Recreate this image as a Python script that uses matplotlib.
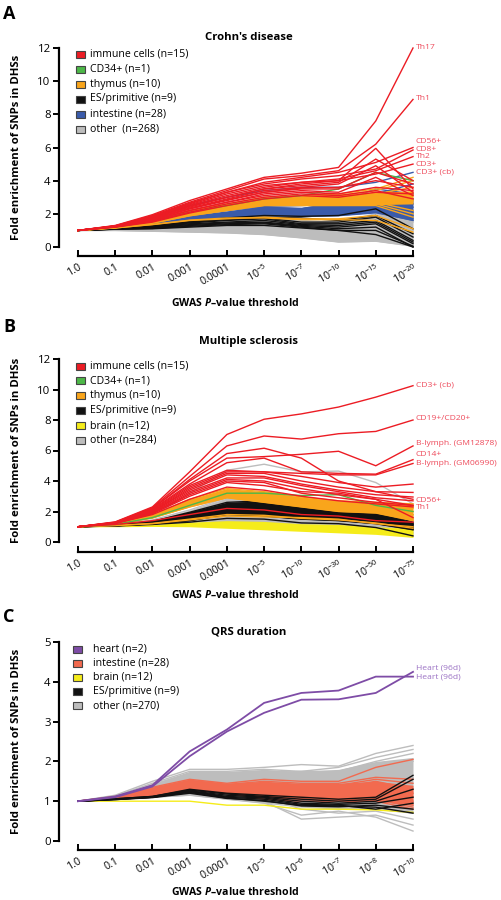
import matplotlib
matplotlib.use('Agg')
import matplotlib.pyplot as plt
from matplotlib.patches import Rectangle

plt.rcParams['font.family'] = ['Open Sans', 'DejaVu Sans']
plt.rcParams['mathtext.fontset'] = 'custom'
plt.rcParams['mathtext.rm'] = 'Open Sans'
plt.rcParams['mathtext.it'] = 'Open Sans:italic:bold'
plt.rcParams['mathtext.bf'] = 'Open Sans:bold'

# ---------------- Panel A : Crohn's disease ----------------
xticks_A = ['1.0', '0.1', '0.01', '0.001', '0.0001', '10$^{-5}$', '10$^{-7}$',
            '10$^{-10}$', '10$^{-15}$', '10$^{-20}$']
red_A = [
    [1.0, 1.30, 1.95, 2.80, 3.50, 4.20, 4.45, 4.80, 7.60, 12.0],
    [1.0, 1.28, 1.90, 2.70, 3.40, 4.10, 4.30, 4.60, 6.20, 8.90],
    [1.0, 1.27, 1.85, 2.60, 3.30, 3.90, 4.20, 4.50, 5.10, 6.00],
    [1.0, 1.27, 1.85, 2.65, 3.30, 3.80, 4.10, 4.30, 4.70, 5.85],
    [1.0, 1.26, 1.80, 2.55, 3.20, 3.70, 3.90, 4.10, 4.60, 5.45],
    [1.0, 1.25, 1.80, 2.50, 3.10, 3.60, 3.90, 4.00, 4.40, 5.00],
    [1.0, 1.25, 1.75, 2.45, 3.00, 3.50, 3.80, 4.00, 5.95, 3.50],
    [1.0, 1.25, 1.75, 2.40, 3.00, 3.50, 3.70, 3.90, 5.30, 4.00],
    [1.0, 1.24, 1.70, 2.35, 2.90, 3.40, 3.60, 3.80, 4.90, 3.30],
    [1.0, 1.23, 1.65, 2.30, 2.80, 3.30, 3.50, 3.50, 4.50, 3.80],
    [1.0, 1.22, 1.60, 2.20, 2.70, 3.20, 3.40, 3.30, 4.20, 3.10],
    [1.0, 1.22, 1.60, 2.20, 2.70, 3.10, 3.30, 3.20, 3.60, 3.40],
    [1.0, 1.21, 1.55, 2.10, 2.60, 3.00, 3.20, 3.10, 3.40, 2.90],
    [1.0, 1.20, 1.50, 2.05, 2.50, 2.90, 3.10, 3.00, 3.30, 3.20],
    [1.0, 1.22, 1.65, 2.30, 2.85, 3.30, 3.55, 3.60, 4.00, 3.60],
]
green_A = [[1.0, 1.20, 1.55, 2.10, 2.50, 2.90, 3.10, 3.50, 4.50, 4.00]]
orange_A = [
    [1.0, 1.20, 1.60, 2.20, 2.60, 3.00, 3.10, 3.20, 3.50, 4.20],
    [1.0, 1.20, 1.58, 2.15, 2.55, 2.90, 3.00, 3.10, 3.40, 4.00],
    [1.0, 1.19, 1.55, 2.10, 2.50, 2.80, 2.90, 3.00, 3.20, 3.60],
    [1.0, 1.19, 1.52, 2.05, 2.45, 2.75, 2.85, 2.90, 3.30, 3.10],
    [1.0, 1.18, 1.50, 2.00, 2.40, 2.70, 2.75, 2.80, 2.90, 2.80],
    [1.0, 1.18, 1.48, 1.95, 2.35, 2.60, 2.70, 2.70, 2.70, 2.20],
    [1.0, 1.17, 1.46, 1.92, 2.30, 2.55, 2.60, 2.60, 2.60, 2.00],
    [1.0, 1.16, 1.44, 1.88, 2.20, 2.50, 2.50, 2.50, 2.50, 1.80],
    [1.0, 1.15, 1.35, 1.60, 1.70, 1.80, 1.70, 1.70, 1.90, 1.10],
    [1.0, 1.15, 1.36, 1.62, 1.75, 1.75, 1.65, 1.65, 1.60, 0.90],
]
orange_A_low = [1.0, 1.16, 1.44, 1.88, 2.20, 2.50, 2.50, 2.50, 2.55, 2.60]
orange_A_high = [1.0, 1.20, 1.60, 2.20, 2.60, 3.00, 3.10, 3.20, 3.30, 3.40]
blue_A = [
    [1.0, 1.25, 1.75, 2.50, 3.00, 3.40, 3.60, 3.60, 3.90, 4.50],
    [1.0, 1.18, 1.45, 1.85, 2.10, 2.40, 2.30, 2.70, 3.50, 3.20],
    [1.0, 1.17, 1.42, 1.80, 2.05, 2.35, 2.30, 2.50, 3.00, 2.90],
    [1.0, 1.16, 1.40, 1.75, 2.00, 2.30, 2.20, 2.40, 2.80, 2.60],
    [1.0, 1.15, 1.38, 1.70, 1.95, 2.20, 2.15, 2.30, 2.60, 2.40],
    [1.0, 1.15, 1.35, 1.65, 1.90, 2.10, 2.05, 2.20, 2.50, 2.10],
    [1.0, 1.14, 1.33, 1.60, 1.85, 2.00, 2.00, 2.10, 2.40, 1.90],
    [1.0, 1.13, 1.30, 1.55, 1.75, 1.95, 1.90, 2.00, 2.20, 1.70],
    [1.0, 1.12, 1.28, 1.50, 1.70, 1.90, 1.85, 1.90, 2.10, 1.60],
    [1.0, 1.18, 1.48, 1.90, 2.20, 2.45, 2.50, 2.60, 3.20, 3.80],
]
blue_A_low = [1.0, 1.12, 1.28, 1.50, 1.70, 1.88, 1.85, 1.88, 2.05, 1.60]
blue_A_high = [1.0, 1.18, 1.45, 1.85, 2.15, 2.45, 2.40, 2.70, 3.00, 3.00]
black_A = [
    [1.0, 1.12, 1.30, 1.55, 1.75, 1.90, 1.85, 1.90, 2.30, 1.10],
    [1.0, 1.11, 1.28, 1.52, 1.70, 1.80, 1.75, 1.60, 1.90, 0.80],
    [1.0, 1.10, 1.25, 1.50, 1.65, 1.75, 1.50, 1.50, 1.80, 0.60],
    [1.0, 1.10, 1.22, 1.45, 1.60, 1.70, 1.40, 1.40, 1.60, 0.40],
    [1.0, 1.09, 1.20, 1.40, 1.50, 1.60, 1.35, 1.30, 1.50, 0.30],
    [1.0, 1.09, 1.18, 1.35, 1.45, 1.50, 1.30, 1.20, 1.40, 0.20],
    [1.0, 1.08, 1.15, 1.30, 1.40, 1.45, 1.25, 1.10, 1.20, 0.00],
    [1.0, 1.08, 1.12, 1.25, 1.35, 1.40, 1.20, 1.00, 1.00, 0.05],
    [1.0, 1.07, 1.10, 1.20, 1.30, 1.30, 1.15, 1.00, 0.75, 0.00],
]
gray_A = [
    [1.0, 1.10, 1.25, 1.45, 1.60, 1.70, 1.60, 1.50, 2.00, 2.20],
    [1.0, 1.08, 1.18, 1.35, 1.45, 1.50, 1.40, 1.30, 1.70, 1.80],
    [1.0, 1.06, 1.12, 1.25, 1.30, 1.35, 1.20, 1.10, 1.40, 1.50],
    [1.0, 1.04, 1.08, 1.15, 1.20, 1.20, 1.05, 0.90, 1.10, 1.00],
    [1.0, 1.02, 1.03, 1.05, 1.05, 1.00, 0.90, 0.70, 0.80, 0.60],
    [1.0, 1.00, 0.98, 0.95, 0.92, 0.85, 0.70, 0.45, 0.55, 0.30],
    [1.0, 1.00, 0.95, 0.90, 0.85, 0.75, 0.55, 0.30, 0.35, 0.05],
]
gray_A_low = [1.0, 1.00, 0.95, 0.90, 0.85, 0.75, 0.55, 0.30, 0.35, 0.05]
gray_A_high = [1.0, 1.10, 1.25, 1.45, 1.60, 1.70, 1.60, 1.50, 2.00, 2.20]
labels_A = ['Th17', 'Th1', 'CD56+', 'CD8+', 'Th2', 'CD3+', 'CD3+ (cb)']
labels_A_y = [12.05, 8.95, 6.35, 5.9, 5.45, 5.0, 4.5]
legend_A = ['immune cells (n=15)', 'CD34+ (n=1)', 'thymus (n=10)',
            'ES/primitive (n=9)', 'intestine (n=28)', 'other  (n=268)']

# ---------------- Panel B : Multiple sclerosis ----------------
xticks_B = ['1.0', '0.1', '0.01', '0.001', '0.0001', '10$^{-5}$', '10$^{-10}$',
            '10$^{-30}$', '10$^{-50}$', '10$^{-75}$']
red_B = [
    [1.0, 1.32, 2.30, 4.60, 7.05, 8.05, 8.40, 8.85, 9.50, 10.25],
    [1.0, 1.30, 2.25, 4.30, 6.30, 6.95, 6.75, 7.10, 7.25, 8.00],
    [1.0, 1.28, 2.20, 4.00, 5.50, 5.60, 5.75, 5.95, 5.00, 6.30],
    [1.0, 1.27, 2.15, 3.80, 5.20, 5.50, 4.60, 4.50, 4.45, 5.40],
    [1.0, 1.27, 2.10, 3.70, 4.70, 4.60, 4.50, 4.40, 4.40, 5.15],
    [1.0, 1.28, 2.20, 4.10, 5.80, 6.15, 5.50, 4.00, 3.30, 2.80],
    [1.0, 1.26, 2.05, 3.60, 4.60, 4.60, 4.30, 3.90, 3.60, 3.80],
    [1.0, 1.25, 2.00, 3.50, 4.50, 4.50, 4.00, 3.60, 3.30, 3.25],
    [1.0, 1.25, 2.00, 3.40, 4.40, 4.30, 3.80, 3.40, 3.10, 2.95],
    [1.0, 1.24, 1.95, 3.30, 4.20, 4.20, 3.70, 3.30, 2.90, 2.70],
    [1.0, 1.24, 1.90, 3.20, 4.10, 4.00, 3.50, 3.10, 2.80, 2.40],
    [1.0, 1.23, 1.90, 3.10, 4.00, 3.90, 3.20, 2.90, 2.60, 2.40],
    [1.0, 1.22, 1.85, 3.00, 3.90, 3.70, 3.30, 3.20, 2.80, 1.60],
    [1.0, 1.22, 1.80, 2.80, 3.60, 3.40, 3.00, 2.70, 2.50, 2.30],
    [1.0, 1.15, 1.40, 1.80, 2.20, 2.10, 1.80, 1.70, 1.40, 1.30],
]
green_B = [[1.0, 1.15, 1.60, 2.40, 3.20, 3.20, 3.05, 3.10, 2.40, 2.00]]
orange_B = [
    [1.0, 1.20, 1.75, 2.80, 3.50, 3.30, 2.95, 2.70, 2.60, 2.50],
    [1.0, 1.20, 1.72, 2.70, 3.40, 3.20, 2.85, 2.60, 2.50, 2.30],
    [1.0, 1.19, 1.70, 2.60, 3.30, 3.10, 2.75, 2.50, 2.40, 2.20],
    [1.0, 1.18, 1.68, 2.50, 3.20, 3.00, 2.65, 2.40, 2.30, 2.00],
    [1.0, 1.18, 1.65, 2.45, 3.10, 2.90, 2.55, 2.30, 2.20, 1.80],
    [1.0, 1.17, 1.62, 2.40, 3.00, 2.80, 2.45, 2.20, 2.10, 1.60],
    [1.0, 1.17, 1.60, 2.35, 2.95, 2.70, 2.35, 2.10, 2.00, 1.50],
    [1.0, 1.16, 1.58, 2.30, 2.90, 2.60, 2.30, 2.00, 1.90, 1.40],
    [1.0, 1.08, 1.20, 1.45, 1.70, 1.65, 1.60, 1.50, 1.20, 1.00],
    [1.0, 1.08, 1.22, 1.50, 1.80, 1.75, 1.55, 1.45, 1.25, 0.90],
]
orange_B_low = [1.0, 1.16, 1.58, 2.30, 2.90, 2.60, 2.30, 2.00, 1.90, 1.40]
orange_B_high = [1.0, 1.20, 1.75, 2.80, 3.50, 3.30, 2.95, 2.70, 2.60, 2.50]
black_B = [
    [1.0, 1.10, 1.35, 1.95, 2.60, 2.70, 2.40, 2.10, 2.00, 1.30],
    [1.0, 1.10, 1.33, 1.90, 2.50, 2.60, 2.30, 2.00, 1.80, 1.20],
    [1.0, 1.09, 1.30, 1.85, 2.40, 2.50, 2.20, 1.90, 1.70, 1.15],
    [1.0, 1.09, 1.28, 1.75, 2.30, 2.35, 2.00, 1.80, 1.60, 1.10],
    [1.0, 1.08, 1.25, 1.70, 2.20, 2.20, 1.90, 1.70, 1.50, 1.00],
    [1.0, 1.08, 1.23, 1.60, 2.00, 2.00, 1.70, 1.60, 1.40, 0.90],
    [1.0, 1.07, 1.20, 1.50, 1.90, 1.85, 1.60, 1.50, 1.30, 0.85],
    [1.0, 1.06, 1.18, 1.40, 1.80, 1.70, 1.50, 1.40, 1.20, 0.80],
    [1.0, 1.05, 1.15, 1.30, 1.55, 1.50, 1.25, 1.20, 0.95, 0.40],
]
black_B_low = [1.0, 1.06, 1.18, 1.40, 1.80, 1.70, 1.50, 1.40, 1.20, 0.80]
black_B_high = [1.0, 1.10, 1.35, 1.95, 2.60, 2.70, 2.40, 2.10, 2.00, 1.30]
gray_B = [
    [1.0, 1.20, 1.70, 3.20, 4.70, 5.10, 4.60, 4.65, 3.90, 2.50],
    [1.0, 1.15, 1.45, 2.10, 2.90, 2.80, 2.50, 2.40, 2.20, 1.80],
    [1.0, 1.10, 1.30, 1.70, 2.20, 2.10, 1.90, 1.80, 1.60, 1.30],
    [1.0, 1.05, 1.20, 1.30, 1.40, 1.35, 1.20, 1.10, 0.90, 0.60],
]
gray_B_low = [1.0, 1.05, 1.20, 1.30, 1.30, 1.20, 1.10, 1.00, 0.80, 0.50]
gray_B_high = [1.0, 1.15, 1.45, 2.10, 2.90, 2.80, 2.50, 2.40, 2.20, 1.80]
yellow_B_low = [1.0, 1.00, 1.02, 1.00, 0.90, 0.80, 0.70, 0.60, 0.50, 0.30]
yellow_B_high = [1.0, 1.05, 1.15, 1.30, 1.40, 1.35, 1.20, 1.15, 1.00, 0.90]
labels_B = ['CD3+ (cb)', 'CD19+/CD20+', 'B-lymph. (GM12878)', 'CD14+',
            'B-lymph. (GM06990)', 'CD56+', 'Th1']
labels_B_y = [10.3, 8.1, 6.45, 5.75, 5.12, 2.73, 2.27]
legend_B = ['immune cells (n=15)', 'CD34+ (n=1)', 'thymus (n=10)',
            'ES/primitive (n=9)', 'brain (n=12)', 'other (n=284)']

# ---------------- Panel C : QRS duration ----------------
xticks_C = ['1.0', '0.1', '0.01', '0.001', '0.0001', '10$^{-5}$', '10$^{-6}$',
            '10$^{-7}$', '10$^{-8}$', '10$^{-10}$']
purple_C = [
    [1.0, 1.12, 1.40, 2.25, 2.80, 3.47, 3.72, 3.78, 4.13, 4.13],
    [1.0, 1.10, 1.37, 2.13, 2.75, 3.22, 3.55, 3.56, 3.72, 4.25],
]
gray_C = [
    [1.0, 1.15, 1.50, 1.80, 1.80, 1.85, 1.92, 1.88, 2.20, 2.40],
    [1.0, 1.13, 1.45, 1.75, 1.75, 1.80, 1.75, 1.85, 2.10, 2.30],
    [1.0, 1.12, 1.35, 1.70, 1.70, 1.70, 1.75, 1.75, 2.00, 2.20],
    [1.0, 1.10, 1.30, 1.60, 1.55, 1.60, 1.60, 1.60, 1.70, 2.00],
    [1.0, 1.09, 1.25, 1.40, 1.35, 1.30, 1.25, 1.20, 1.40, 1.60],
    [1.0, 1.08, 1.20, 1.30, 1.20, 1.10, 0.80, 0.70, 0.75, 0.55],
    [1.0, 1.07, 1.18, 1.25, 1.15, 1.05, 0.90, 0.80, 0.80, 0.70],
    [1.0, 1.06, 1.15, 1.20, 1.10, 1.00, 0.55, 0.60, 0.65, 0.40],
    [1.0, 1.05, 1.10, 1.15, 1.05, 0.95, 0.65, 0.75, 0.60, 0.25],
]
gray_C_low = [1.0, 1.05, 1.10, 1.15, 1.05, 0.95, 0.85, 0.80, 0.80, 0.70]
gray_C_high = [1.0, 1.13, 1.45, 1.75, 1.75, 1.80, 1.75, 1.80, 2.00, 2.10]
salmon_C = [
    [1.0, 1.12, 1.35, 1.55, 1.45, 1.55, 1.50, 1.50, 1.85, 2.05],
    [1.0, 1.11, 1.32, 1.52, 1.42, 1.50, 1.45, 1.45, 1.60, 1.55],
    [1.0, 1.10, 1.30, 1.48, 1.40, 1.45, 1.40, 1.40, 1.55, 1.45],
    [1.0, 1.10, 1.28, 1.45, 1.38, 1.40, 1.35, 1.35, 1.50, 1.30],
    [1.0, 1.09, 1.25, 1.42, 1.35, 1.35, 1.30, 1.30, 1.40, 1.20],
    [1.0, 1.09, 1.22, 1.40, 1.30, 1.30, 1.20, 1.25, 1.30, 1.10],
    [1.0, 1.08, 1.20, 1.38, 1.28, 1.25, 1.15, 1.20, 1.20, 1.00],
    [1.0, 1.08, 1.18, 1.35, 1.25, 1.20, 1.10, 1.10, 1.10, 0.90],
    [1.0, 1.07, 1.15, 1.32, 1.22, 1.10, 1.05, 1.00, 1.05, 0.85],
    [1.0, 1.07, 1.15, 1.30, 1.20, 1.05, 1.00, 1.00, 1.00, 0.80],
]
salmon_C_low = [1.0, 1.07, 1.15, 1.30, 1.20, 1.10, 1.05, 1.00, 1.00, 0.90]
salmon_C_high = [1.0, 1.12, 1.35, 1.55, 1.45, 1.50, 1.45, 1.45, 1.50, 1.40]
black_C = [
    [1.0, 1.06, 1.12, 1.30, 1.20, 1.15, 1.10, 1.05, 1.10, 1.65],
    [1.0, 1.06, 1.12, 1.28, 1.18, 1.12, 1.05, 1.00, 1.05, 1.55],
    [1.0, 1.05, 1.11, 1.26, 1.15, 1.10, 1.00, 0.95, 1.00, 1.30],
    [1.0, 1.05, 1.10, 1.25, 1.12, 1.08, 0.95, 0.92, 0.95, 1.10],
    [1.0, 1.05, 1.10, 1.24, 1.10, 1.05, 0.92, 0.90, 0.80, 0.95],
    [1.0, 1.04, 1.10, 1.22, 1.08, 1.00, 0.90, 0.88, 0.85, 0.70],
    [1.0, 1.04, 1.09, 1.20, 1.07, 1.02, 0.88, 0.86, 0.90, 0.80],
]
yellow_C = [[1.0, 1.00, 1.00, 1.00, 0.90, 0.90, 0.80, 0.80, 0.78, 0.72]]
labels_C = ['Heart (96d)', 'Heart (96d)']
labels_C_y = [4.35, 4.12]
legend_C = ['heart (n=2)', 'intestine (n=28)', 'brain (n=12)',
            'ES/primitive (n=9)', 'other (n=270)']

# ---------------- colours ----------------
RED = '#EC1C24'
GREEN = '#4DB848'
ORANGE = '#F9A51B'
BLACK = '#111111'
BLUE = '#3A5BAA'
GRAY = '#BDBDBD'
YELLOW = '#F5EC1A'
PURPLE = '#7E4CA6'
SALMON = '#F26A4F'
LBL_RED = '#EE4B5C'
LBL_PURPLE = '#9B72C4'

W, H = 502, 900
fig = plt.figure(figsize=(W / 100, H / 100), dpi=100)


def fx(x):
    return x / W


def fy(y):
    return 1 - y / H


def make_axes(top_px, bottom_px):
    left, right = 78, 413
    return fig.add_axes([fx(left), fy(bottom_px), (right - left) / W,
                         (bottom_px - top_px) / H])


def style_axes(ax, ymax, xticklabels, bottom_off_px):
    ax.set_xlim(0, len(xticklabels) - 1)
    ax.set_ylim(0, ymax)
    for s in ['top', 'right']:
        ax.spines[s].set_visible(False)
    ax.spines['left'].set_position(('outward', 19 * 0.72))
    ax.spines['bottom'].set_position(('outward', bottom_off_px * 0.72))
    ax.spines['left'].set_linewidth(1.6)
    ax.spines['bottom'].set_linewidth(1.6)
    ax.set_xticks(range(len(xticklabels)))
    ax.set_xticklabels(xticklabels, rotation=30, ha='right',
                       rotation_mode='anchor', fontsize=7.6)
    step = 2 if ymax > 6 else 1
    ax.set_yticks(range(0, ymax + 1, step))
    ax.tick_params(axis='y', direction='out', length=4, width=1.4,
                   labelsize=8.2, pad=2)
    ax.tick_params(axis='x', direction='in', length=4, width=1.4, pad=4)
    ax.set_facecolor('none')


def draw_group(ax, lines, color, z, lw=1.0, low=None, high=None):
    xs = list(range(10))
    if low is not None:
        ax.fill_between(xs, low, high, color=color, lw=0, zorder=z)
    for ln in lines:
        ax.plot(xs, ln, color=color, lw=lw, zorder=z + 0.5, clip_on=False,
                solid_joinstyle='miter')


def draw_legend(entries, colors, x_patch, y_first, step, x_text):
    for i, (t, c) in enumerate(zip(entries, colors)):
        yc = y_first + i * step
        fig.patches.append(Rectangle((fx(x_patch), fy(yc + 3.5)), 9 / W, 7 / H,
                                     transform=fig.transFigure, facecolor=c,
                                     edgecolor='#444444', lw=0.8))
        fig.text(fx(x_text), fy(yc), t, fontsize=7.6, va='center', ha='left')


def right_labels(ax, texts, ys, color):
    for t, y in zip(texts, ys):
        ax.annotate(t, xy=(9, y), xytext=(3, 0), textcoords='offset pixels',
                    fontsize=6.1, color=color, va='center', ha='left',
                    annotation_clip=False)


def axis_labels(ax, title, title_y, xlabel_y):
    ax.text(0.51, title_y, title, transform=ax.transAxes, ha='center',
            va='center', fontsize=8.2, fontweight='bold')
    ax.set_ylabel('Fold enrichment of SNPs in DHSs', fontsize=8.2,
                  fontweight='bold')
    ax.yaxis.set_label_coords(-0.167, 0.5)
    ax.set_xlabel('GWAS $P$\u2013value threshold', fontsize=7.6,
                  fontweight='bold')
    ax.xaxis.set_label_coords(0.469, xlabel_y)


# ---------- Panel A ----------
axA = make_axes(48, 247)
style_axes(axA, 12, xticks_A, 9)
draw_group(axA, gray_A, GRAY, 1, low=gray_A_low, high=gray_A_high)
draw_group(axA, blue_A, BLUE, 2, low=blue_A_low, high=blue_A_high)
draw_group(axA, black_A, BLACK, 3)
draw_group(axA, orange_A, ORANGE, 4, low=orange_A_low, high=orange_A_high)
draw_group(axA, green_A, GREEN, 5)
draw_group(axA, red_A, RED, 6)
right_labels(axA, labels_A, labels_A_y, LBL_RED)
axis_labels(axA, "Crohn's disease", 1.055, -0.251)
draw_legend(legend_A, [RED, GREEN, ORANGE, BLACK, BLUE, GRAY], 76, 54, 15, 90)

# ---------- Panel B ----------
axB = make_axes(359, 542)
style_axes(axB, 12, xticks_B, 10)
draw_group(axB, gray_B, GRAY, 1, low=gray_B_low, high=gray_B_high)
draw_group(axB, [], YELLOW, 2, low=yellow_B_low, high=yellow_B_high)
draw_group(axB, black_B, BLACK, 3, low=black_B_low, high=black_B_high)
draw_group(axB, orange_B, ORANGE, 4, low=orange_B_low, high=orange_B_high)
draw_group(axB, green_B, GREEN, 5)
draw_group(axB, red_B, RED, 6)
right_labels(axB, labels_B, labels_B_y, LBL_RED)
axis_labels(axB, 'Multiple sclerosis', 1.093, -0.257)
draw_legend(legend_B, [RED, GREEN, ORANGE, BLACK, YELLOW, GRAY], 76, 366, 14.9, 90)

# ---------- Panel C ----------
axC = make_axes(642, 841)
style_axes(axC, 5, xticks_C, 9)
draw_group(axC, gray_C, GRAY, 1, low=gray_C_low, high=gray_C_high)
draw_group(axC, yellow_C, YELLOW, 2)
draw_group(axC, salmon_C, SALMON, 3, low=salmon_C_low, high=salmon_C_high)
draw_group(axC, black_C, BLACK, 4)
draw_group(axC, purple_C, PURPLE, 5, lw=1.3)
right_labels(axC, labels_C, labels_C_y, LBL_PURPLE)
axis_labels(axC, 'QRS duration', 1.050, -0.226)
draw_legend(legend_C, [PURPLE, SALMON, YELLOW, BLACK, GRAY], 73, 649, 14.2, 93)

# panel letters
for letter, yc in [('A', 14), ('B', 327), ('C', 617)]:
    fig.text(fx(3), fy(yc), letter, fontsize=13, fontweight='bold',
             va='center', ha='left')

fig.savefig('out.png', dpi=100)
